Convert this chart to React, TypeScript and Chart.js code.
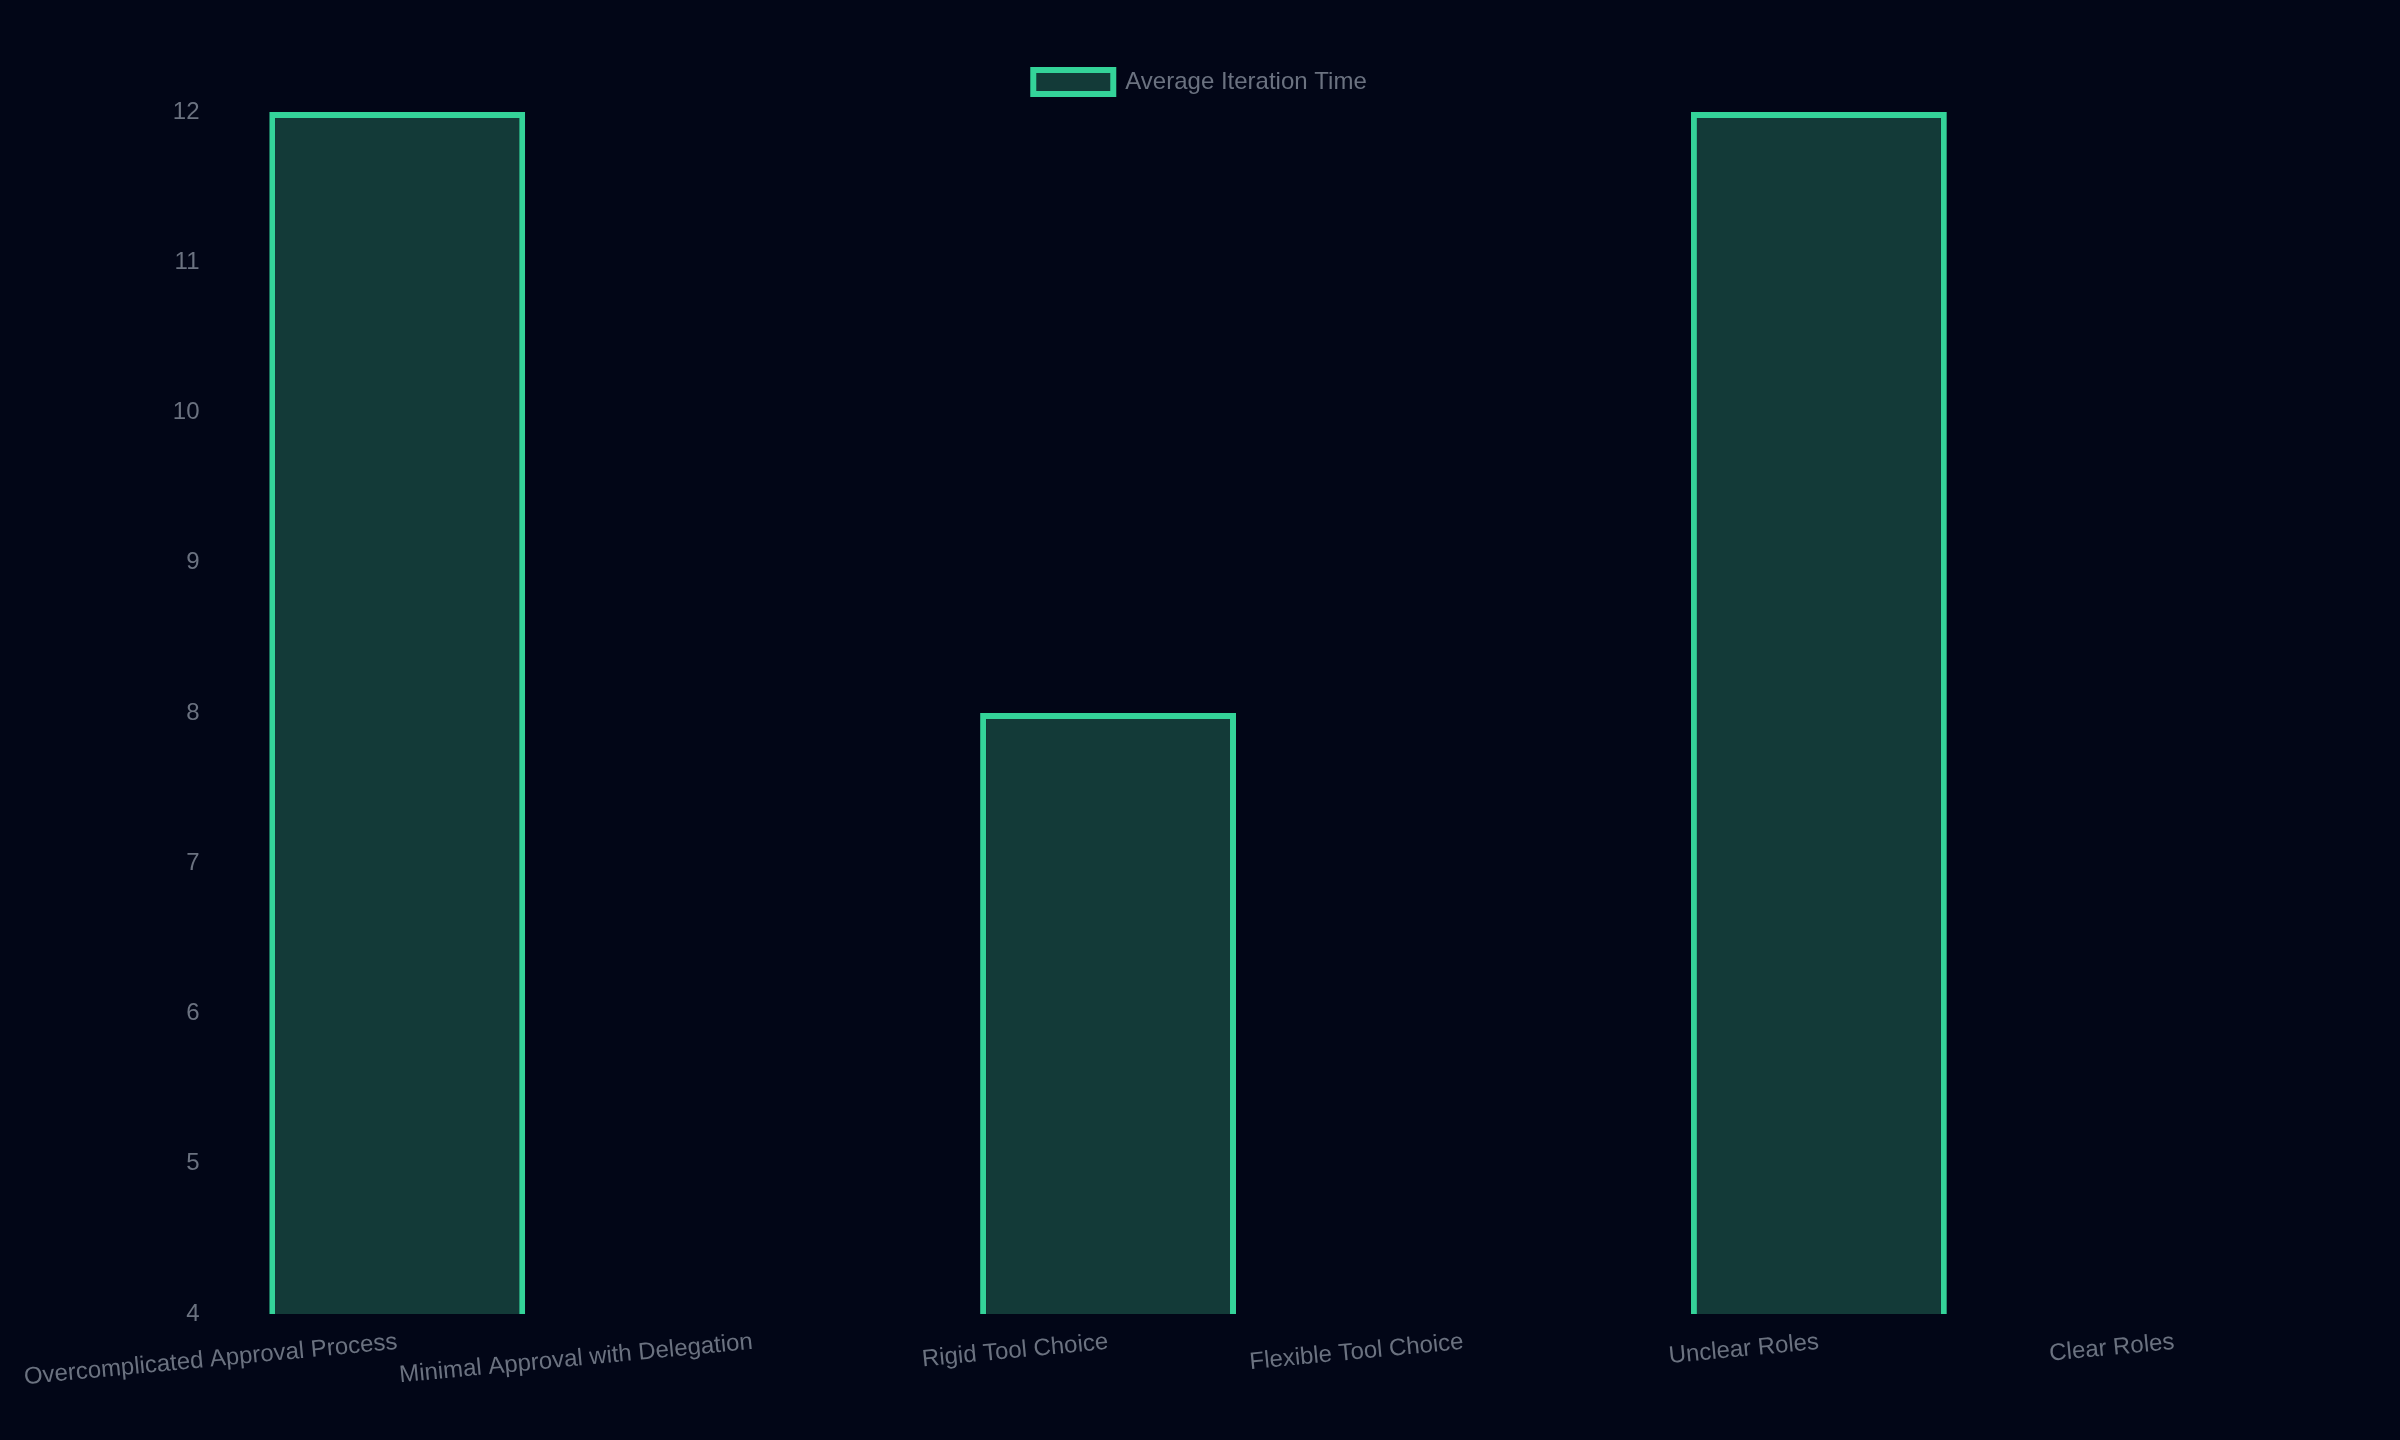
import React, { useEffect, useRef } from "react";
import { Chart, registerables } from "chart.js";

Chart.register(...registerables);

const categories = [
  "Overcomplicated Approval Process",
  "Minimal Approval with Delegation",
  "Rigid Tool Choice",
  "Flexible Tool Choice",
  "Unclear Roles",
  "Clear Roles",
];
const iterationTime: (number | null)[] = [12, null, 8, null, 12, null];
const seriesLabel = "Average Iteration Time";

const legendGap = {
  id: "legendGap",
  beforeInit(chart: any) {
    const legend = chart.legend;
    if (!legend) return;
    const fit = legend.fit;
    legend.fit = function () {
      fit.call(this);
      this.height += 8;
    };
  },
};

export default function App() {
  const ref = useRef<HTMLCanvasElement>(null);
  useEffect(() => {
    document.body.style.margin = "0";
    document.body.style.background = "#020617";
    const ctx = ref.current!.getContext("2d")!;
    const chart = new Chart(ctx, {
      type: "bar",
      data: {
        labels: categories,
        datasets: [
          {
            label: seriesLabel,
            data: iterationTime,
            backgroundColor: "#133a38",
            borderColor: "#34d399",
            borderWidth: 6,
          },
        ],
      },
      plugins: [legendGap],
      options: {
        animation: false,
        responsive: false,
        maintainAspectRatio: false,
        layout: { padding: { top: 50, left: 48, right: 48, bottom: 42 } },
        font: { family: "'Liberation Sans', Arial, sans-serif", size: 24 },
        plugins: {
          legend: {
            labels: { color: "#6b7280", boxWidth: 80, font: { size: 24 }, padding: 20 },
          },
          tooltip: { enabled: false },
        },
        scales: {
          x: {
            grid: { display: false },
            border: { display: false },
            ticks: { color: "#6b7280", font: { size: 24 }, padding: 6 },
          },
          y: {
            min: 4,
            max: 12,
            grid: { display: false },
            border: { display: false },
            ticks: { color: "#6b7280", font: { size: 24 }, stepSize: 1, padding: 12 },
            afterFit: (scale: any) => {
              scale.width = 169;
            },
          },
        },
      },
    } as any);
    return () => chart.destroy();
  }, []);
  return (
    <div style={{ width: 2400, height: 1440, background: "#020617" }}>
      <canvas ref={ref} width={2400} height={1440} style={{ display: "block" }} />
    </div>
  );
}
